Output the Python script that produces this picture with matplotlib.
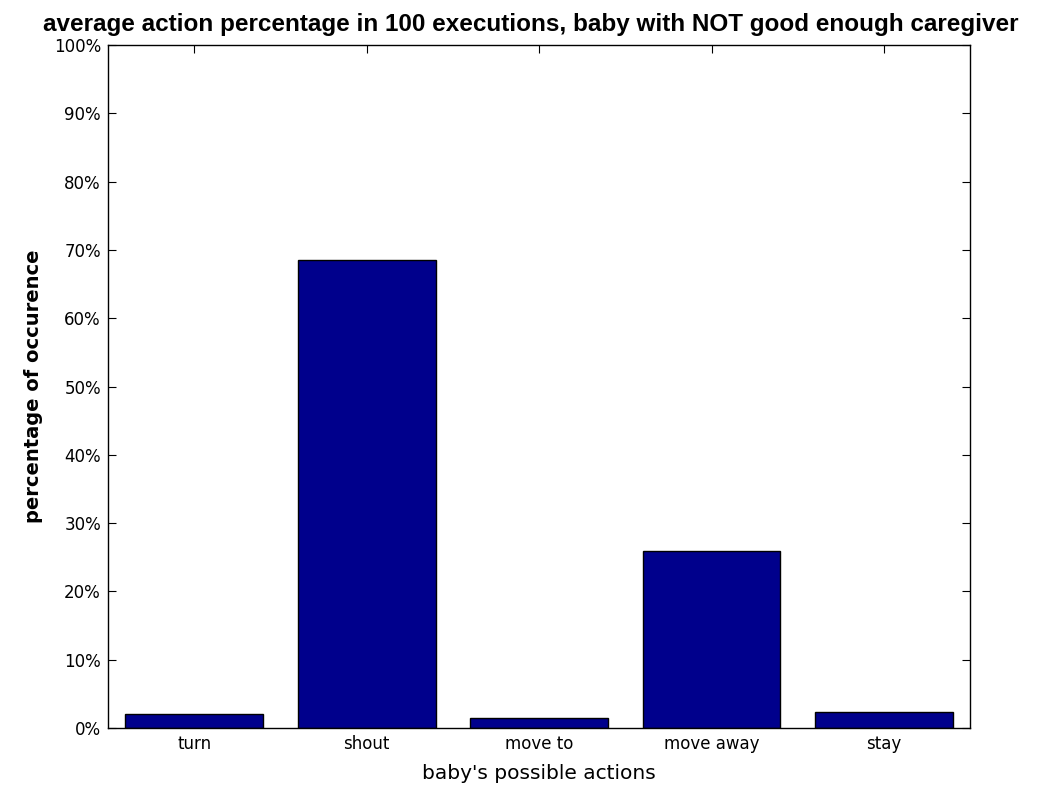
import matplotlib
matplotlib.use("Agg")
import matplotlib.pyplot as plt
from matplotlib.ticker import FuncFormatter

actions = ["turn", "shout", "move to", "move away", "stay"]
pct = [2.0, 68.5, 1.5, 25.9, 2.3]
yticks = list(range(0, 101, 10))

plt.rcParams["font.family"] = ["DejaVu Sans"]

fig = plt.figure(figsize=(10.58, 7.93), dpi=100)
ax = fig.add_axes([0.102, 0.082, 0.815, 0.861])

pos = list(range(1, len(actions) + 1))
ax.bar(pos, pct, width=0.8, color="#00008C", edgecolor="black", linewidth=1, zorder=3)

ax.set_xlim(0.5, 5.5)
ax.set_ylim(0, 100)
ax.set_xticks(pos)
ax.set_xticklabels(actions, fontsize=12)
ax.set_yticks(yticks)
ax.yaxis.set_major_formatter(FuncFormatter(lambda v, _: f"{v:.0f}%"))
ax.tick_params(axis="both", direction="in", top=True, right=True, length=6,
               labelsize=12, pad=5)

for s in ax.spines.values():
    s.set_linewidth(1)
    s.set_zorder(4)

t = ax.set_title("average action percentage in 100 executions, baby with NOT good enough caregiver",
                 fontsize=17.5, fontweight="bold", pad=10,
                 family=["Liberation Sans", "DejaVu Sans"])
t.set_x(0.49)
ax.set_xlabel("baby's possible actions", fontsize=14.5, labelpad=8)
ax.set_ylabel("percentage of occurence", fontsize=14, fontweight="bold", labelpad=8)

fig.savefig("out.png", dpi=100)
